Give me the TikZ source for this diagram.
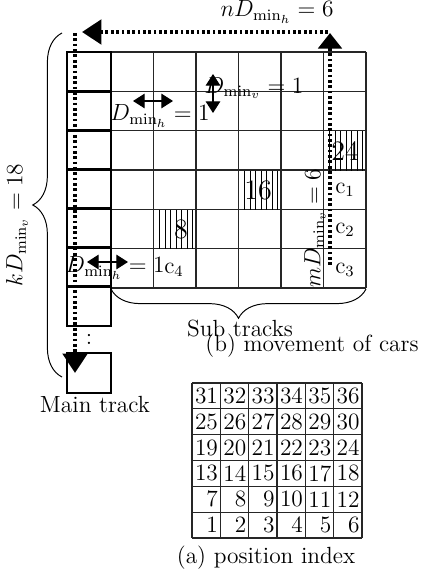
\documentclass[tikz,border=0pt]{standalone}
\usetikzlibrary{arrows.meta,decorations.pathreplacing,calc}
\begin{document}
\begin{tikzpicture}[x=0.513pt,y=-0.513pt,font=\large,
  gridline/.style={line width=0.55pt,black!85},
  hatchline/.style={line width=0.4pt},
  mtbox/.style={line width=1.5pt},
  dotarrow/.style={line width=2.2pt,dash pattern=on 1.4pt off 1.35pt,-{Triangle[length=10pt,width=12.5pt]}},
  uparrow/.style={line width=2.2pt,dash pattern=on 1.4pt off 1.35pt,-{Triangle[length=8pt,width=12pt]}},
  smallarrow/.style={line width=0.6pt,{Triangle[length=6pt,width=7.5pt]}-{Triangle[length=6pt,width=7.5pt]}},
  lbl/.style={inner sep=0pt},
  bracestyle/.style={decorate,decoration={brace,amplitude=15pt},line width=0.5pt}]
\useasboundingbox (0,0) rectangle (425,576);

% ---- sub track grid
\foreach \i in {0,...,6} {\draw[gridline] (111,{52+39.33*\i}) -- (366,{52+39.33*\i});}
\foreach \j in {0,...,6} {\draw[gridline] ({111+42.5*\j},52) -- ({111+42.5*\j},288);}

% ---- hatched cells
\foreach \cx/\cy in {323.5/131.33, 238.5/170.67, 153.5/210} {
  \foreach \k in {0,...,6} {\draw[hatchline] ({\cx+6+5.5*\k},\cy) -- ({\cx+6+5.5*\k},{\cy+39.33});}
}

% ---- main track
\foreach \i in {0,...,6} {\draw[mtbox] (67,{52+39.14*\i}) rectangle (111,{52+39.14*(\i+1)});}
\draw[mtbox] (67,353) rectangle (111,393);
\node[lbl] (dots) at (89,339) {:};

% ---- cell labels
\node[lbl] (n24) at (345,151) {\Large 24};
\node[lbl] (n16) at (258,190) {\Large 16};
\node[lbl] (n8) at (181,229) {\Large 8};
\node[lbl] (c1) at (345,190) {$\mathrm{c}_1$};
\node[lbl] (c2) at (345,230) {$\mathrm{c}_2$};
\node[lbl] (c3) at (345,270) {$\mathrm{c}_3$};
\node[lbl] (c4) at (174,270) {$\mathrm{c}_4$};

% ---- dimension labels
\node[lbl] (lh1) at (160,116) {$D_{\mathrm{min}_h}=1$};
\node[lbl] (lv1) at (254,88) {$D_{\mathrm{min}_v}=1$};
\node[lbl] (lh2) at (115,268) {$D_{\mathrm{min}_h}=1$};
\node[lbl] (ln) at (277,12) {$nD_{\mathrm{min}_h}=6$};
\node[lbl,rotate=90] (lk) at (17,225) {$kD_{\mathrm{min}_v}=18$};
\node[lbl,rotate=90] (lm) at (315,228) {$mD_{\mathrm{min}_v}=6$};

% ---- small arrows
\coordinate (ha) at (133,101); \coordinate (hb) at (173,101);
\coordinate (va) at (213,74);  \coordinate (vb) at (213,113);
\coordinate (ga) at (87,262);  \coordinate (gb) at (128,262);
\draw[smallarrow] (ha) -- (hb);
\draw[smallarrow] (va) -- (vb);
\draw[smallarrow] (ga) -- (gb);

% ---- dotted movement arrows
\coordinate (rb) at (330,265); \coordinate (rt) at (330,33);
\coordinate (tr) at (328,32);  \coordinate (tl) at (82,32);
\coordinate (lt) at (75,33);   \coordinate (lb) at (75,373);
\draw[uparrow] (rb) -- (rt);
\draw[dotarrow] (tr) -- (tl);
\draw[dotarrow] (lt) -- (lb);

% ---- braces
\coordinate (bl1) at (62,377); \coordinate (bl2) at (62,33);
\draw[bracestyle] (bl1) -- (bl2);
\coordinate (bb1) at (366,289); \coordinate (bb2) at (111,289);
\draw[bracestyle] (bb1) -- (bb2);

\node[lbl] (sub) at (240,329) {Sub tracks};
\node[lbl] (capb) at (312,346) {(b) movement of cars};
\node[lbl] (main) at (95,404) {Main track};

% ---- position index table
\foreach \i in {0,...,6} {\draw[gridline] (192,{383+25.83*\i}) -- (362,{383+25.83*\i});}
\foreach \j in {0,...,6} {\draw[gridline] ({192+28.33*\j},383) -- ({192+28.33*\j},538);}
\foreach \r in {0,...,5} {
  \foreach \c in {0,...,5} {
    \pgfmathtruncatemacro{\num}{(5-\r)*6+\c+1}
    \node[lbl,anchor=east] (p\num) at ({192+28.33*(\c+1)-2},{383+25.83*(\r+0.5)}) {\num};
  }
}
\node[lbl] (capa) at (266,558) {(a) position index};
\end{tikzpicture}
\end{document}
